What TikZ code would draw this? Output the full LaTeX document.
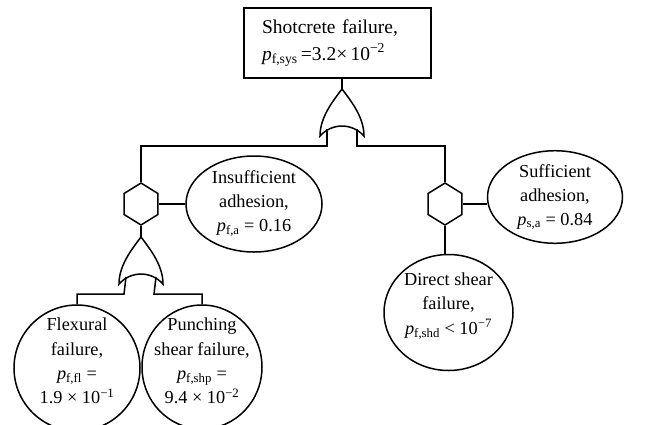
\documentclass[tikz,border=0pt]{standalone}
\usepackage{fontspec}
\setmainfont{Liberation Serif}
\usetikzlibrary{shapes.geometric}
\newcommand\pp[1]{\textit{p}\textsubscript{#1}}
\tikzset{
  evt/.style={draw, line width=1.5pt, ellipse, inner sep=0pt, align=center,
    font=\fontsize{18.3}{24}\selectfont},
  evttext/.style={inner sep=0pt, align=center, font=\fontsize{18.3}{24.3}\selectfont},
  topbox/.style={draw, line width=1.5pt, rectangle, inner xsep=18pt, inner ysep=0pt,
    text width=151pt, align=left, minimum height=70pt,
    font=\fontsize{19.5}{26.5}\selectfont},
  hexa/.style={draw, line width=1.5pt, regular polygon, regular polygon sides=6,
    shape border rotate=30, minimum size=42pt, inner sep=0pt, xscale=0.93},
  orgate/.style={draw, line width=1.5pt, line join=miter},
  conn/.style={line width=1.5pt},
}
\newcommand\orgateat[3]{% #1 name, #2 x, #3 y of tip
  \coordinate (#1) at (#2,#3);
  \draw[orgate] (#2,#3) .. controls ({#2-9},{#3+12}) and ({#2-22},{#3+28}) .. ({#2-22},{#3+47})
     .. controls ({#2-10},{#3+33.7}) and ({#2+10},{#3+33.7}) .. ({#2+22},{#3+47})
     .. controls ({#2+22},{#3+28}) and ({#2+9},{#3+12}) .. cycle;
  \coordinate (#1L) at ({#2-15},{#3+40});
  \coordinate (#1R) at ({#2+15},{#3+40});
}
\begin{document}
\begin{tikzpicture}[x=1pt,y=-1pt]
\useasboundingbox (0,0) rectangle (646,424);
\node[topbox] (top) at (337.5,43) {Shotcrete failure,\\ \pp{f,sys}\,=3.2×\,10\textsuperscript{−2}};
\orgateat{g1}{342}{89}
\node[hexa] (h1) at (141,204) {};
\node[hexa] (h2) at (445,204) {};
\node[evt, minimum width=136pt, minimum height=96pt] (ins) at (254,204)
  {Insufficient\\ adhesion,\\ \pp{f,a} = 0.16};
\node[evt, minimum width=135pt, minimum height=86pt] (suf) at (555,197)
  {Sufficient\\ adhesion,\\ \pp{s,a} = 0.84};
\orgateat{g2}{141}{237}
\node[evt, minimum width=126pt, minimum height=126pt] (fl) at (77,368) {};
\node[evttext] (fltext) at (77,361)
  {Flexural\\ failure,\\ \pp{f,fl} =\\ 1.9 × 10\textsuperscript{−1}};
\node[evt, minimum width=120pt, minimum height=124pt] (ps) at (202,367) {};
\node[evttext] (pstext) at (202,361)
  {Punching\\ shear failure,\\ \pp{f,shp} =\\ 9.4 × 10\textsuperscript{−2}};
\node[evt, minimum width=129pt, minimum height=116pt] (ds) at (448.5,312.5) {};
\node[evttext] (dstext) at (448.5,306)
  {Direct shear\\ failure,\\ \pp{f,shd} < 10\textsuperscript{−7}};
\coordinate (j1) at (327,146);
\coordinate (j2) at (357,146);
\coordinate (j3) at (124,294);
\coordinate (j4) at (154,294);
\draw[conn] (top.south -| g1) -- (g1);
\draw[conn] (g1L) -- (j1) -| (h1.north);
\draw[conn] (g1R) -- (j2) -| (h2.north);
\draw[conn] (h1.east) -- (ins.west);
\draw[conn] (h2.east) -- (h2.east -| suf.west);
\draw[conn] (h1.south) -- (g2);
\draw[conn] (h2.south) -- (h2.south |- ds.north);
\draw[conn] (g2L) -- (j3) -| (fl.north);
\draw[conn] (g2R) -- (j4) -| (ps.north);
\end{tikzpicture}
\end{document}
